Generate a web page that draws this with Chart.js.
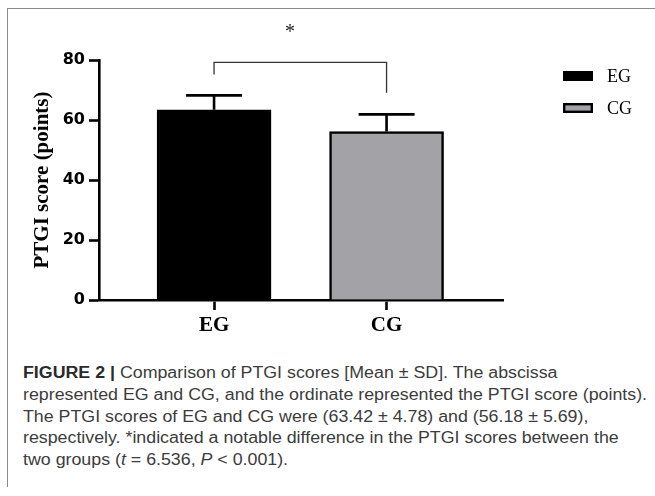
<!DOCTYPE html>
<html>
<head>
<meta charset="utf-8">
<script src="https://cdn.jsdelivr.net/npm/chart.js@4.4.1/dist/chart.umd.min.js"></script>
<style>
  html, body { margin: 0; padding: 0; background: #fff; }
  body { width: 655px; height: 496px; position: relative; overflow: hidden; }
  #frame { position: absolute; left: 7px; top: 8px; width: 700px; height: 478px;
           border-left: 1px solid #8a8a8a; border-top: 1px solid #8a8a8a; }
  #c { position: absolute; left: 0; top: 0; }
  #cap { position: absolute; left: 23px; top: 362px; font-family: "Liberation Sans", Arial, sans-serif;
         color: #3c3c3c; line-height: 21.8px; font-size: 16px; white-space: nowrap;
         transform-origin: 0 0; }
  #cap .l { display: block; }
  #cap span.m { display: inline-block; }
  #cap b { color: #2a2a2a; }
</style>
</head>
<body>
<div id="frame"></div>
<canvas id="c" width="655" height="350"></canvas>
<div id="cap">
  <div class="l"><b>FIGURE 2 |</b> Comparison of PTGI scores [Mean ± SD]. The abscissa</div>
  <div class="l"><span class="m" id="ref">represented EG and CG, and the ordinate represented the PTGI score (points).</span></div>
  <div class="l">The PTGI scores of EG and CG were (63.42 ± 4.78) and (56.18 ± 5.69),</div>
  <div class="l">respectively. *indicated a notable difference in the PTGI scores between the</div>
  <div class="l">two groups (<i>t</i> = 6.536, <i>P</i> &lt; 0.001).</div>
</div>
<script>
// ---- data ----
const categories = ['EG', 'CG'];
const categoryPos = [0, 1];
const means = [63.42, 56.18];
const sds = [4.78, 5.69];
const yTicks = [0, 20, 40, 60, 80];
const barColors = ['#000000', '#a3a3a7'];
const bracketEnds = [75.2, 69.1];   // lower ends of the significance bracket (score units)
const bracketTop = 79.2;
const starLabel = '*';
const starValue = 90;
const starPos = 0.44;

// ---- fit caption width (condense horizontally like the source typeface) ----
(function () {
  const ref = document.getElementById('ref');
  const w = ref.getBoundingClientRect().width;
  const cap = document.getElementById('cap');
  cap.style.transform = 'scaleX(' + (624 / w).toFixed(4) + ')';
})();

const errorBars = {
  id: 'errorBars',
  afterDatasetsDraw(chart) {
    const { ctx, scales: { x, y } } = chart;
    ctx.save();
    ctx.strokeStyle = '#000';
    ctx.lineWidth = 2.6;
    ctx.lineCap = 'butt';
    means.forEach((m, i) => {
      const px = x.getPixelForValue(categoryPos[i]);
      const y0 = y.getPixelForValue(m);
      const y1 = y.getPixelForValue(m + sds[i]);
      ctx.beginPath();
      ctx.moveTo(px, y0);
      ctx.lineTo(px, y1);
      ctx.moveTo(px - 28, y1);
      ctx.lineTo(px + 28, y1);
      ctx.stroke();
    });
    ctx.restore();
  }
};

const bracket = {
  id: 'bracket',
  afterDraw(chart) {
    const { ctx, scales: { x, y } } = chart;
    const xl = x.getPixelForValue(categoryPos[0]);
    const xr = x.getPixelForValue(categoryPos[1]);
    const yt = y.getPixelForValue(bracketTop);
    ctx.save();
    ctx.strokeStyle = '#333';
    ctx.lineWidth = 1.3;
    ctx.beginPath();
    ctx.moveTo(xl, y.getPixelForValue(bracketEnds[0]));
    ctx.lineTo(xl, yt);
    ctx.lineTo(xr, yt);
    ctx.lineTo(xr, y.getPixelForValue(bracketEnds[1]));
    ctx.stroke();
    ctx.fillStyle = '#222';
    ctx.font = '20px "Liberation Serif", serif';
    ctx.textAlign = 'center';
    ctx.textBaseline = 'middle';
    ctx.fillText(starLabel, x.getPixelForValue(starPos), y.getPixelForValue(starValue) + 3);
    ctx.restore();
  }
};

const legendPlugin = {
  id: 'customLegend',
  afterDraw(chart) {
    const { ctx } = chart;
    ctx.save();
    categories.forEach((lab, i) => {
      const top = 71 + i * 32;
      ctx.fillStyle = barColors[i];
      ctx.fillRect(563, top, 30, 10);
      if (i > 0) {
        ctx.strokeStyle = '#000';
        ctx.lineWidth = 2.4;
        ctx.strokeRect(564.2, top + 1.2, 27.6, 7.6);
      }
      ctx.fillStyle = '#000';
      ctx.font = '18px "Liberation Serif", serif';
      ctx.textAlign = 'left';
      ctx.textBaseline = 'middle';
      ctx.fillText(lab, 607, top + 6);
    });
    ctx.restore();
  }
};

new Chart(document.getElementById('c'), {
  type: 'bar',
  data: {
    datasets: [{
      label: 'PTGI score',
      data: categoryPos.map((p, i) => ({ x: p, y: means[i] })),
      backgroundColor: barColors,
      borderColor: '#000',
      borderWidth: 2.5,
      borderSkipped: 'start',
      barThickness: 114
    }]
  },
  options: {
    responsive: false,
    animation: false,
    events: [],
    layout: { padding: { top: 60, right: 152, left: 0, bottom: 0 } },
    plugins: { legend: { display: false }, tooltip: { enabled: false } },
    scales: {
      x: {
        type: 'linear',
        min: -0.667,
        max: 1.675,
        offset: false,
        afterBuildTicks(s) { s.ticks = categoryPos.map(v => ({ value: v })); },
        afterFit(s) { s.height = 50; },
        ticks: {
          autoSkip: false,
          maxRotation: 0,
          padding: 3,
          color: '#000',
          font: { family: '"Liberation Serif", serif', size: 21, weight: 'bold' },
          callback: (v) => categories[categoryPos.indexOf(v)]
        },
        grid: { offset: false, drawOnChartArea: false, drawTicks: true, tickLength: 10, tickWidth: 2.6, tickColor: '#000' },
        border: { display: true, color: '#000', width: 2.6 }
      },
      y: {
        min: 0,
        max: 80,
        afterBuildTicks(s) { s.ticks = yTicks.map(v => ({ value: v })); },
        afterFit(s) { s.width = 99; },
        ticks: {
          padding: 4,
          color: '#000',
          font: { family: '"DejaVu Sans", sans-serif', size: 16, weight: 'bold' }
        },
        grid: { drawOnChartArea: false, drawTicks: true, tickLength: 10, tickWidth: 2.6, tickColor: '#000' },
        border: { display: true, color: '#000', width: 2.6 },
        title: {
          display: true,
          text: 'PTGI score (points)',
          color: '#000',
          font: { family: '"Liberation Serif", serif', size: 21, weight: 'bold' },
          padding: { top: 30, bottom: 0 }
        }
      }
    }
  },
  plugins: [errorBars, bracket, legendPlugin]
});
</script>
</body>
</html>
